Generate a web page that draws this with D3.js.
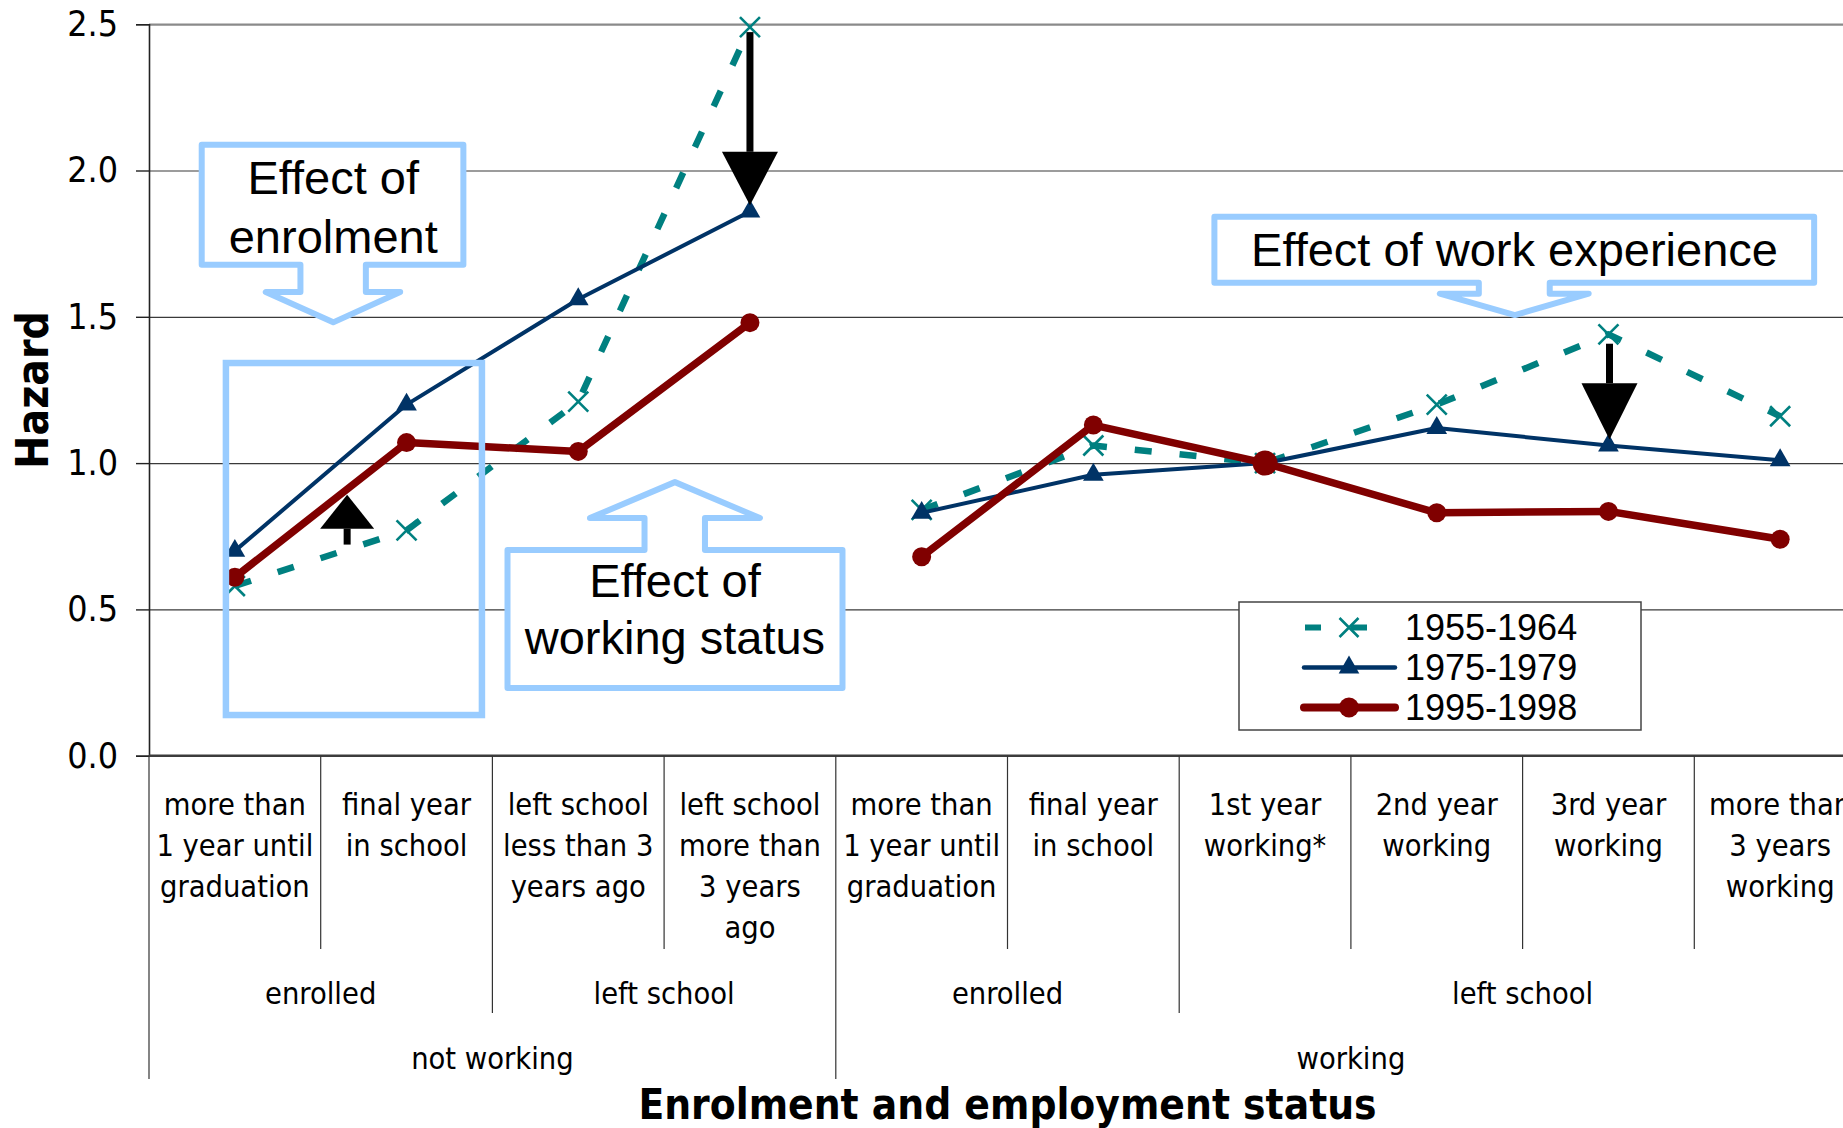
<!DOCTYPE html>
<html>
<head>
<meta charset="utf-8">
<script src="https://cdn.jsdelivr.net/npm/d3@7"></script>
<style>
  html, body { margin: 0; padding: 0; background: #fff; overflow: hidden; }
  svg { display: block; }
</style>
</head>
<body>
<svg id="chart" width="1843" height="1128"></svg>
<script>
// ---------------- DATA ----------------
const categories = [
  ["more than", "1 year until", "graduation"],
  ["final year", "in school"],
  ["left school", "less than 3", "years ago"],
  ["left school", "more than", "3 years", "ago"],
  ["more than", "1 year until", "graduation"],
  ["final year", "in school"],
  ["1st year", "working*"],
  ["2nd year", "working"],
  ["3rd year", "working"],
  ["more than", "3 years", "working"]
];
const enrolmentGroups = [
  { label: "enrolled", from: 0, to: 2 },
  { label: "left school", from: 2, to: 4 },
  { label: "enrolled", from: 4, to: 6 },
  { label: "left school", from: 6, to: 10 }
];
const workingGroups = [
  { label: "not working", from: 0, to: 4 },
  { label: "working", from: 4, to: 10 }
];
const seriesNames = ["1955-1964", "1975-1979", "1995-1998"];
const values1955 = [0.58, 0.77, 1.21, 2.49, 0.84, 1.06, 1.00, 1.20, 1.44, 1.16];
const values1975 = [0.70, 1.20, 1.56, 1.86, 0.83, 0.96, 1.00, 1.12, 1.06, 1.01];
const values1995 = [0.61, 1.07, 1.04, 1.48, 0.68, 1.13, 1.00, 0.83, 0.835, 0.74];
const yTicks = [0, 0.5, 1.0, 1.5, 2.0, 2.5];
const referenceIndex = 6;   // "1st year working*" = reference category
const yTitle = "Hazard";
const xTitle = "Enrolment and employment status";

// ---------------- LAYOUT ----------------
const W = 1843, H = 1128;
const plotLeft = 149, plotTop = 24.2, plotBottom = 755.7;
const bandW = 171.7;
const plotRight = plotLeft + bandW * categories.length; // extends past the right edge (as in the reference)

const svg = d3.select("#chart");
const catFont = "'DejaVu Sans Condensed', 'DejaVu Sans', sans-serif";
const arial = "'Liberation Sans', Arial, sans-serif";

const x = d3.scaleBand().domain(d3.range(categories.length)).range([plotLeft, plotRight]).padding(0);
const xu = d3.scaleLinear().domain([0, categories.length]).range([plotLeft, plotRight]);
const y = d3.scaleLinear().domain([0, 2.5]).range([plotBottom, plotTop]);

// ---------------- GRID ----------------
const grid = svg.append("g").attr("transform", `translate(${plotLeft},0)`)
  .call(d3.axisLeft(y).tickValues(yTicks.filter(t => t > 0)).tickSize(-(plotRight - plotLeft)).tickFormat(""));
grid.select(".domain").remove();
grid.selectAll(".tick line")
  .attr("stroke", d => d === 2.5 ? "#8a8a8a" : "#3a3a3a")
  .attr("stroke-width", d => d === 2.5 ? 2.2 : 1.2);

// ---------------- Y AXIS ----------------
const yAxis = svg.append("g").attr("transform", `translate(${plotLeft},0)`)
  .call(d3.axisLeft(y).tickValues(yTicks).tickSize(13).tickPadding(18).tickFormat(d3.format(".1f")));
yAxis.select(".domain").attr("stroke", "#222").attr("stroke-width", 1.6);
yAxis.selectAll(".tick line").attr("stroke", "#222").attr("stroke-width", 1.4);
yAxis.selectAll(".tick text")
  .attr("font-family", catFont).attr("font-size", 35.5).attr("fill", "#000");

svg.append("text")
  .attr("transform", `translate(48, ${(plotTop + plotBottom) / 2}) rotate(-90)`)
  .attr("text-anchor", "middle")
  .attr("font-family", catFont).attr("font-weight", "bold").attr("font-size", 44)
  .text(yTitle);

// ---------------- X AXIS (multi level) ----------------
svg.append("line")
  .attr("x1", plotLeft).attr("x2", plotRight).attr("y1", y(0)).attr("y2", y(0))
  .attr("stroke", "#3c3c3c").attr("stroke-width", 2.6);

const level1Bottom = 949, level2Bottom = 1013, level3Bottom = 1079;
const wgBounds = new Set(workingGroups.flatMap(g => [g.from, g.to]));
const egBounds = new Set(enrolmentGroups.flatMap(g => [g.from, g.to]));
svg.append("g").selectAll("line")
  .data(d3.range(categories.length + 1))
  .join("line")
  .attr("x1", k => xu(k)).attr("x2", k => xu(k))
  .attr("y1", y(0))
  .attr("y2", k => wgBounds.has(k) ? level3Bottom : (egBounds.has(k) ? level2Bottom : level1Bottom))
  .attr("stroke", "#333").attr("stroke-width", 1.2);

const catLabels = svg.append("g")
  .attr("font-family", catFont).attr("font-size", 30.5).attr("text-anchor", "middle").attr("fill", "#000");
catLabels.selectAll("text")
  .data(categories)
  .join("text")
  .attr("x", (d, i) => x(i) + x.bandwidth() / 2)
  .attr("y", 815)
  .each(function (lines, i) {
    d3.select(this).selectAll("tspan").data(lines).join("tspan")
      .attr("x", x(i) + x.bandwidth() / 2)
      .attr("dy", (l, j) => j === 0 ? 0 : 41)
      .text(l => l);
  });

svg.append("g").attr("font-family", catFont).attr("font-size", 30.5).attr("text-anchor", "middle")
  .selectAll("text").data(enrolmentGroups).join("text")
  .attr("x", g => (xu(g.from) + xu(g.to)) / 2).attr("y", 1004)
  .text(g => g.label);

svg.append("g").attr("font-family", catFont).attr("font-size", 30.5).attr("text-anchor", "middle")
  .selectAll("text").data(workingGroups).join("text")
  .attr("x", g => (xu(g.from) + xu(g.to)) / 2).attr("y", 1069)
  .text(g => g.label);

svg.append("text")
  .attr("x", (plotLeft + plotRight) / 2).attr("y", 1119)
  .attr("text-anchor", "middle")
  .attr("font-family", catFont).attr("font-weight", "bold").attr("font-size", 42)
  .text(xTitle);

// ---------------- SERIES ----------------
const series = [
  { name: seriesNames[0], values: values1955, color: "#008080", width: 6.5, dash: "17,28", marker: "x" },
  { name: seriesNames[1], values: values1975, color: "#003366", width: 4, dash: null, marker: "triangle" },
  { name: seriesNames[2], values: values1995, color: "#800000", width: 7.5, dash: null, marker: "circle" }
];
const topGroupOf = i => workingGroups.findIndex(g => i >= g.from && i < g.to);
const line = d3.line().x(d => x(d.i) + x.bandwidth() / 2).y(d => y(d.v));
const triSym = d3.symbol().type(d3.symbolTriangle).size(185);

function drawMarker(g, s, d) {
  const cx = x(d.i) + x.bandwidth() / 2, cy = y(d.v);
  if (s.marker === "x") {
    const h = 10;
    g.append("path")
      .attr("d", `M${cx - h},${cy - h}L${cx + h},${cy + h}M${cx - h},${cy + h}L${cx + h},${cy - h}`)
      .attr("stroke", s.color).attr("stroke-width", 2.6).attr("fill", "none");
  } else if (s.marker === "triangle") {
    g.append("path").attr("d", triSym()).attr("transform", `translate(${cx},${cy})`).attr("fill", s.color);
  } else {
    g.append("circle").attr("cx", cx).attr("cy", cy)
      .attr("r", d.i === referenceIndex ? 12.5 : 9.5).attr("fill", s.color);
  }
}

series.forEach(s => {
  const g = svg.append("g");
  const pts = s.values.map((v, i) => ({ i, v }));
  const segs = d3.groups(pts, d => topGroupOf(d.i)).map(e => e[1]);
  segs.forEach(seg => {
    g.append("path").attr("d", line(seg))
      .attr("fill", "none").attr("stroke", s.color).attr("stroke-width", s.width)
      .attr("stroke-linejoin", "round")
      .attr("stroke-dasharray", s.dash);
  });
  pts.forEach(d => drawMarker(g, s, d));
});

// ---------------- ANNOTATIONS (positioned in data units) ----------------
const callColor = "#99CCFF";
const P = (u, v) => `${xu(u)},${y(v)}`;

function downCallout(b, stem, wing, stemEnd, tip) {
  return `M${P(b.u0, b.v0)}L${P(b.u1, b.v0)}L${P(b.u1, b.v1)}L${P(stem[1], b.v1)}L${P(stem[1], stemEnd)}` +
    `L${P(wing[1], stemEnd)}L${P(tip[0], tip[1])}L${P(wing[0], stemEnd)}L${P(stem[0], stemEnd)}` +
    `L${P(stem[0], b.v1)}L${P(b.u0, b.v1)}Z`;
}
function upCallout(b, stem, wing, stemEnd, tip) {
  return `M${P(b.u0, b.v0)}L${P(stem[0], b.v0)}L${P(stem[0], stemEnd)}L${P(wing[0], stemEnd)}` +
    `L${P(tip[0], tip[1])}L${P(wing[1], stemEnd)}L${P(stem[1], stemEnd)}L${P(stem[1], b.v0)}` +
    `L${P(b.u1, b.v0)}L${P(b.u1, b.v1)}L${P(b.u0, b.v1)}Z`;
}
const ann = svg.append("g");

// rectangle around enrolled categories
ann.append("rect")
  .attr("x", xu(0.448)).attr("y", y(1.342))
  .attr("width", xu(1.939) - xu(0.448)).attr("height", y(0.139) - y(1.342))
  .attr("fill", "none").attr("stroke", callColor).attr("stroke-width", 6.5);

const callouts = [
  { d: downCallout({ u0: 0.307, u1: 1.831, v0: 2.088, v1: 1.678 }, [0.882, 1.263], [0.680, 1.463], 1.585, [1.073, 1.481]),
    text: ["Effect of", "enrolment"], tu: 1.073, tv: [1.918, 1.718] },
  { d: upCallout({ u0: 2.088, u1: 4.039, v0: 0.703, v1: 0.231 }, [2.886, 3.238], [2.568, 3.558], 0.812, [3.063, 0.935]),
    text: ["Effect of", "working status"], tu: 3.063, tv: [0.542, 0.348] },
  { d: downCallout({ u0: 6.205, u1: 9.698, v0: 1.842, v1: 1.616 }, [7.745, 8.158], [7.518, 8.385], 1.579, [7.955, 1.506]),
    text: ["Effect of work experience"], tu: 7.953, tv: [1.674] }
];
callouts.forEach(c => {
  ann.append("path").attr("d", c.d).attr("fill", "#fff")
    .attr("stroke", callColor).attr("stroke-width", 6).attr("stroke-linejoin", "round");
  c.text.forEach((t, k) => {
    ann.append("text").attr("x", xu(c.tu)).attr("y", y(c.tv[k]))
      .attr("text-anchor", "middle").attr("font-family", arial).attr("font-size", 47).attr("fill", "#000")
      .text(t);
  });
});

// black block arrows
const arrows = [
  { u: 1.154, from: 0.7215, base: 0.776, to: 0.892, half: 27 },
  { u: 3.5, from: 2.473, base: 2.064, to: 1.881, half: 28 },
  { u: 8.506, from: 1.408, base: 1.273, to: 1.081, half: 28 }
];
arrows.forEach(a => {
  const ax = xu(a.u);
  ann.append("line").attr("x1", ax).attr("x2", ax).attr("y1", y(a.from)).attr("y2", y(a.base))
    .attr("stroke", "#000").attr("stroke-width", 7);
  ann.append("path")
    .attr("d", `M${ax - a.half},${y(a.base)}L${ax + a.half},${y(a.base)}L${ax},${y(a.to)}Z`)
    .attr("fill", "#000");
});

// ---------------- LEGEND ----------------
const lg = svg.append("g");
lg.append("rect").attr("x", 1239).attr("y", 602).attr("width", 402).attr("height", 128)
  .attr("fill", "#fff").attr("stroke", "#444").attr("stroke-width", 1.5);
series.forEach((s, k) => {
  const cy = 627.5 + k * 40;
  lg.append("line").attr("x1", s.dash ? 1305 : 1304).attr("x2", 1395).attr("y1", cy).attr("y2", cy)
    .attr("stroke", s.color).attr("stroke-width", s.dash ? 6 : (s.marker === "circle" ? 8 : 4.5))
    .attr("stroke-dasharray", s.dash ? "16,30" : null)
    .attr("stroke-linecap", s.dash ? "butt" : "round");
  const mcx = 1349;
  if (s.marker === "x") {
    const h = 9.5;
    lg.append("path").attr("d", `M${mcx - h},${cy - h}L${mcx + h},${cy + h}M${mcx - h},${cy + h}L${mcx + h},${cy - h}`)
      .attr("stroke", s.color).attr("stroke-width", 2.6);
  } else if (s.marker === "triangle") {
    lg.append("path").attr("d", triSym()).attr("transform", `translate(${mcx},${cy})`).attr("fill", s.color);
  } else {
    lg.append("circle").attr("cx", mcx).attr("cy", cy).attr("r", 10).attr("fill", s.color);
  }
  lg.append("text").attr("x", 1405).attr("y", cy + 12.8)
    .attr("font-family", arial).attr("font-size", 36).attr("fill", "#000")
    .text(s.name);
});
</script>
</body>
</html>
